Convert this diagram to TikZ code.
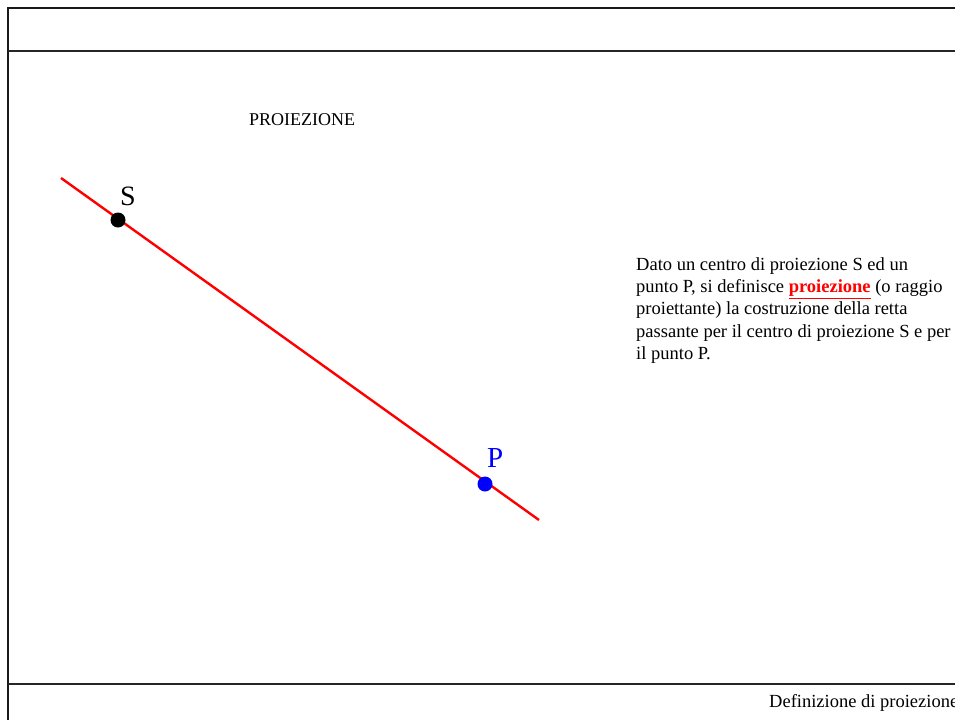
\documentclass[tikz,border=0pt]{standalone}
\usepackage{fontspec}
\setmainfont{Liberation Serif}
\begin{document}
\begin{tikzpicture}[x=1pt,y=-1pt,
  frame/.style={line width=2pt,black!90},
  rule/.style={line width=1.6pt,black!85},
  ray/.style={line width=2.4pt,red},
  pt/.style={circle,inner sep=0pt,minimum size=15pt},
  lbl/.style={inner sep=0pt,anchor=base west},
  body/.style={lbl,font=\fontsize{18.5}{22}\selectfont}]
\useasboundingbox (0,0) rectangle (955,720);
\fill[white] (0,0) rectangle (955,720);
% frame
\draw[frame] (955,8) -- (8,8) -- (8,720);
\draw[rule] (8,51) -- (955,51);
\draw[rule] (8,684) -- (955,684);
% title
\node[lbl,font=\fontsize{18}{20}\selectfont] (title) at (249,125) {PROIEZIONE};
% ray
\coordinate (a) at (61,178);
\coordinate (b) at (539,520);
\draw[ray] (a) -- (b);
\node[pt,fill=black] (S) at (118,220) {};
\node[pt,fill=blue] (P) at (485,484) {};
\node[lbl,font=\fontsize{28}{30}\selectfont] (Sl) at (120,205) {S};
\node[lbl,font=\fontsize{29}{30}\selectfont,text=blue] (Pl) at (487,467) {P};
% text block
\node[body] (t1) at (636,270) {Dato un centro di proiezione S ed un};
\node[body] (t2) at (636,292.4) {punto P, si definisce \textcolor{red}{\underline{\textbf{proiezione}}} (o raggio};
\node[body] (t3) at (636,314.8) {proiettante) la costruzione della retta};
\node[body] (t4) at (636,337.2) {passante per il centro di proiezione S e per};
\node[body] (t5) at (636,359.6) {il punto P.};
% footer
\node[lbl,font=\fontsize{18.5}{20}\selectfont] (foot) at (769,707) {Definizione di proiezione};
\end{tikzpicture}
\end{document}
